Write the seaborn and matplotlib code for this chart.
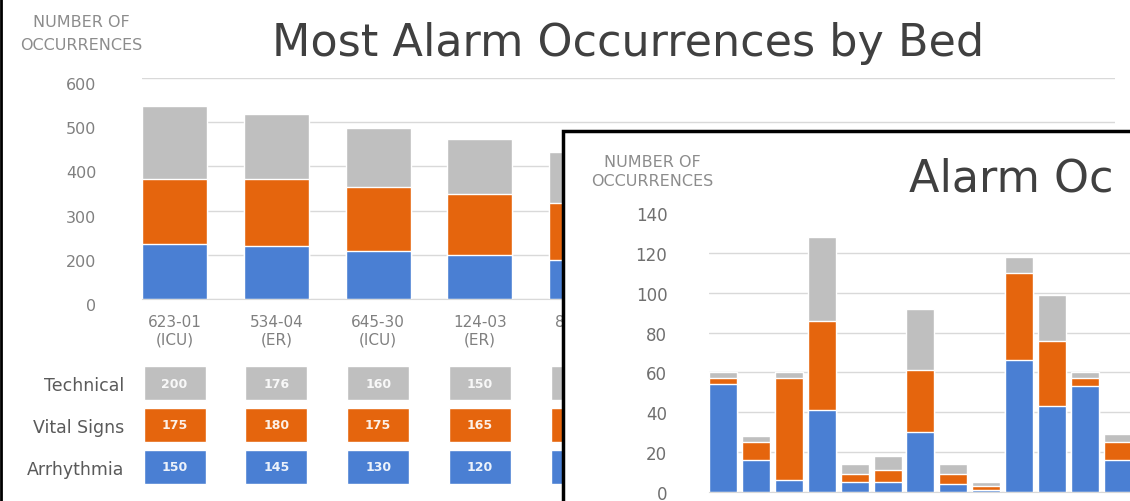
import matplotlib
matplotlib.use("Agg")
import matplotlib.pyplot as plt
from matplotlib.patches import Rectangle
from matplotlib.lines import Line2D
from matplotlib.transforms import ScaledTranslation
import seaborn as sns
import numpy as np

# main chart: most alarm occurrences by bed (5th bed is mostly hidden behind the inset)
beds = ["623-01\n(ICU)", "534-04\n(ER)", "645-30\n(ICU)", "124-03\n(ER)", "812-06\n(ICU)"]
technical = [200, 176, 160, 150, 140]
vital_signs = [175, 180, 175, 165, 155]
arrhythmia = [150, 145, 130, 120, 105]
row_names = ["Technical", "Vital Signs", "Arrhythmia"]
main_ticks = [0, 120, 240, 360, 480, 600]
main_tick_labels = ["0", "200", "300", "400", "500", "600"]

# inset chart: alarm occurrences per bed
inset_arrhythmia = [54, 16, 6, 41, 5, 5, 30, 4, 1, 66, 43, 53, 16]
inset_vital = [3, 9, 51, 45, 4, 6, 31, 5, 2, 44, 33, 4, 9]
inset_technical = [3, 3, 3, 42, 5, 7, 31, 5, 2, 8, 23, 3, 4]
inset_ticks = [0, 20, 40, 60, 80, 100, 120, 140]

BLUE = "#4a7fd3"
ORANGE = "#e5650d"
GRAY = "#bfbfbf"
GRID = "#d9d9d9"
TXT = "#808080"

sns.set_style("white")
plt.rcParams["font.family"] = ["DejaVu Sans"]

W, H = 1130, 502
fig = plt.figure(figsize=(W / 100, H / 100), dpi=100)


def fx(px):
    return px / W


def fy(py):
    return 1 - py / H


# ---- main stacked chart
ax = fig.add_axes([fx(142), fy(300), fx(1115 - 142), (300 - 79) / H])
ax.set_zorder(1)
tot = np.array(arrhythmia) + np.array(vital_signs) + np.array(technical)
mid = np.array(arrhythmia) + np.array(vital_signs)
sns.barplot(x=beds, y=tot, color=GRAY, saturation=1, width=0.64, ax=ax, zorder=2)
sns.barplot(x=beds, y=mid, color=ORANGE, saturation=1, width=0.64, ax=ax, zorder=2)
sns.barplot(x=beds, y=arrhythmia, color=BLUE, saturation=1, width=0.64, ax=ax, zorder=2)
ax.set_xlim(-0.32, 9.24)
ax.set_ylim(0, 600)
ax.set_yticks(main_ticks, main_tick_labels)
ax.set_axisbelow(True)
ax.yaxis.grid(True, color=GRID, lw=1)
ax.tick_params(axis="y", length=0, pad=33, labelsize=11.5, labelcolor=TXT)
ax.tick_params(axis="x", length=0, pad=11, labelsize=11, labelcolor=TXT)
shift = ScaledTranslation(0, -5 / 100, fig.dpi_scale_trans)
for lab in ax.get_yticklabels():
    lab.set_transform(lab.get_transform() + shift)
ax.set_xlabel("")
ax.set_ylabel("")
for s in ["top", "left", "right"]:
    ax.spines[s].set_visible(False)
ax.spines["bottom"].set_color(GRID)

# ---- data table under the main chart
ax_t = fig.add_axes([fx(142), fy(489), fx(1115 - 142), 126 / H])
ax_t.set_zorder(1)
xs = np.arange(len(beds))
for r, (vals, col) in enumerate(zip([technical, vital_signs, arrhythmia], [GRAY, ORANGE, BLUE])):
    ax_t.bar(xs, 0.79, bottom=r + 0.5 - 0.395, width=0.61, color=col)
    for x, v in zip(xs, vals):
        ax_t.text(x, r + 0.5, str(v), ha="center", va="center", color="white",
                  fontsize=9, fontweight="bold", alpha=0.9)
ax_t.set_xlim(ax.get_xlim())
ax_t.set_ylim(3, 0)
ax_t.set_yticks([0.5, 1.5, 2.5], row_names)
ax_t.set_xticks([])
ax_t.tick_params(axis="y", length=0, pad=13, labelsize=12.5, labelcolor="#5a5a5a")
for s in ax_t.spines.values():
    s.set_visible(False)

# ---- inset frame
fig.add_artist(Rectangle((fx(563), -0.05), 0.6, fy(132) + 0.05, transform=fig.transFigure,
                         facecolor="white", edgecolor="black", lw=2.5, zorder=5))

ax_i = fig.add_axes([fx(709), fy(493), fx(458), (493 - 214) / H])
ax_i.set_zorder(6)
ax_i.patch.set_alpha(0)
idx = np.arange(len(inset_arrhythmia))
i_tot = np.array(inset_arrhythmia) + np.array(inset_vital) + np.array(inset_technical)
i_mid = np.array(inset_arrhythmia) + np.array(inset_vital)
sns.barplot(x=idx, y=i_tot, color=GRAY, saturation=1, width=0.85, ax=ax_i, zorder=2)
sns.barplot(x=idx, y=i_mid, color=ORANGE, saturation=1, width=0.85, ax=ax_i, zorder=2)
sns.barplot(x=idx, y=inset_arrhythmia, color=BLUE, saturation=1, width=0.85, ax=ax_i, zorder=2)
ax_i.set_xlim(-0.43, 13.5)
ax_i.set_ylim(0, 140)
ax_i.set_yticks(inset_ticks)
ax_i.set_xticks([])
ax_i.set_axisbelow(True)
ax_i.yaxis.grid(True, color=GRID, lw=1)
ax_i.yaxis.get_gridlines()[-1].set_visible(False)
ax_i.tick_params(axis="y", length=0, pad=30, labelsize=12, labelcolor="#6f6f6f")
ax_i.set_xlabel("")
ax_i.set_ylabel("")
for s in ["top", "left", "right"]:
    ax_i.spines[s].set_visible(False)
ax_i.spines["bottom"].set_color(GRID)

# ---- titles and axis captions
fig.text(fx(628.5), fy(56), "Most Alarm Occurrences by Bed", ha="center", va="baseline",
         fontsize=32, color="#404040")
fig.text(fx(81), fy(22.5), "NUMBER OF", ha="center", va="center", fontsize=11.5, color="#8c8c8c")
fig.text(fx(81), fy(45.5), "OCCURRENCES", ha="center", va="center", fontsize=11.5, color="#8c8c8c")

fig.text(fx(909), fy(192), "Alarm Oc", ha="left", va="baseline",
         fontsize=32, color="#404040", zorder=7)
fig.text(fx(652), fy(163), "NUMBER OF", ha="center", va="center", fontsize=11.5,
         color="#8c8c8c", zorder=7)
fig.text(fx(652), fy(182), "OCCURRENCES", ha="center", va="center", fontsize=11.5,
         color="#8c8c8c", zorder=7)

fig.add_artist(Line2D([0.001, 0.001], [0, 1], transform=fig.transFigure, color="black", lw=2, zorder=8))

fig.savefig("out.png", dpi=100)
